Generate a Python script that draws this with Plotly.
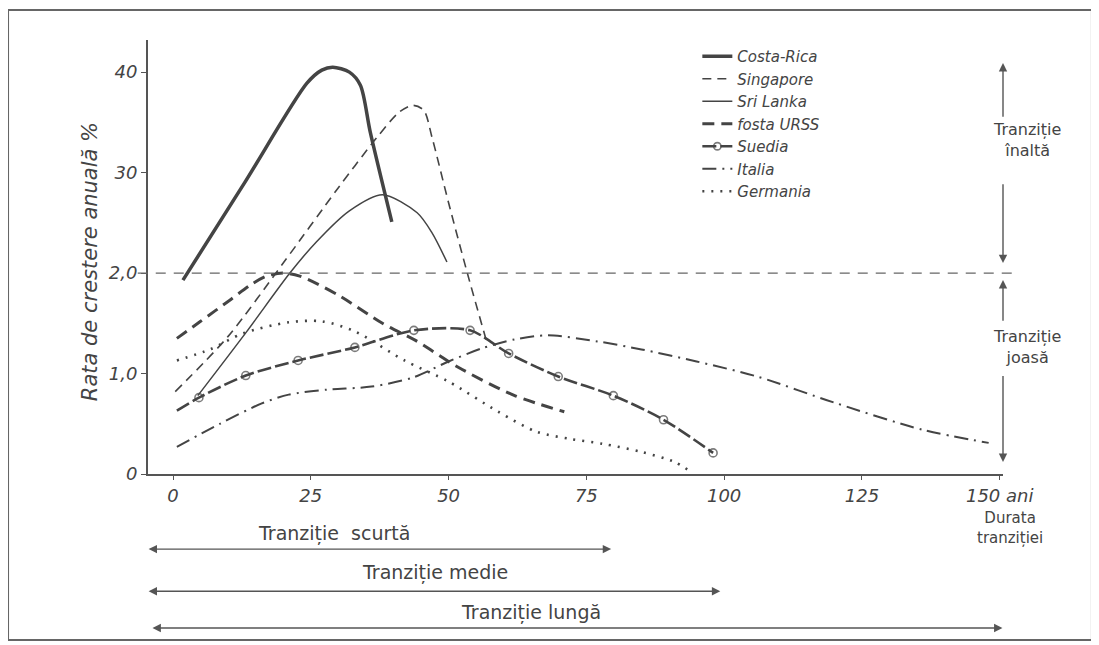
import plotly.graph_objects as go

# ---------------- data ----------------
costa_x = [1.8, 13, 24.3, 27, 29, 32, 34, 35.8, 39.7]
costa_y = [1.93, 2.9, 3.89, 4.02, 4.05, 4.0, 3.87, 3.4, 2.51]

sing_x = [0.4, 10, 20, 30, 37, 41, 43.5, 45.5, 47, 50, 53.4, 57]
sing_y = [0.82, 1.37, 2.1, 2.85, 3.35, 3.6, 3.67, 3.62, 3.35, 2.7, 2.0, 1.3]

sri_x = [4.5, 13.4, 21.2, 26, 32, 38, 44.3, 47, 49.7]
sri_y = [0.78, 1.42, 2.0, 2.31, 2.62, 2.78, 2.6, 2.4, 2.11]

urss_x = [0.7, 5, 10.3, 14, 17, 20, 23, 30, 38, 44, 51.5, 62, 71]
urss_y = [1.35, 1.52, 1.73, 1.88, 1.97, 2.0, 1.97, 1.78, 1.50, 1.33, 1.07, 0.78, 0.62]

suedia_x = [0.7, 4.7, 13.2, 22.7, 33, 43.7, 53.9, 60.9, 69.9, 79.9, 89, 98]
suedia_y = [0.63, 0.76, 0.98, 1.13, 1.26, 1.43, 1.43, 1.20, 0.97, 0.78, 0.54, 0.21]

italia_x = [0.7, 8.5, 16, 21, 28, 36, 43.5, 50, 56, 62, 68, 77, 85, 95, 106, 120, 136, 148]
italia_y = [0.27, 0.5, 0.7, 0.79, 0.84, 0.87, 0.96, 1.12, 1.25, 1.34, 1.38, 1.32, 1.24, 1.12, 0.97, 0.71, 0.44, 0.31]

germ_x = [0.7, 6.7, 12.7, 21, 27, 33, 42, 50, 59, 66, 72, 78, 85, 91, 94]
germ_y = [1.13, 1.24, 1.40, 1.51, 1.52, 1.42, 1.13, 0.92, 0.62, 0.42, 0.35, 0.30, 0.22, 0.12, 0.02]

x_ticks = [0, 25, 50, 75, 100, 125, 150]
x_ticktext = ["0", "25", "50", "75", "100", "125", "150 ani"]
y_ticks = [0, 1, 2, 3, 4]
y_ticktext = ["0", "1,0", "2,0", "30", "40"]

threshold = 2.0

# ---------------- figure ----------------
INK = "#444444"
FONT = "DejaVu Sans"

fig = go.Figure()

def add(x, y, name, width, dash, **kw):
    fig.add_trace(go.Scatter(
        x=x, y=y, name=name, mode=kw.pop("mode", "lines"),
        line=dict(color=INK, width=width, dash=dash, shape="spline", smoothing=0.8),
        **kw))

add(costa_x, costa_y, "Costa-Rica", 3.5, "solid")
add(sing_x, sing_y, "Singapore", 1.6, "9px,6px")
add(sri_x, sri_y, "Sri Lanka", 1.5, "solid")
add(urss_x, urss_y, "fosta URSS", 3, "12px,7px")
add(suedia_x, suedia_y, "Suedia", 2.6, "14px,4px", mode="lines+markers",
    marker=dict(symbol="circle-open", size=[0] + [8] * (len(suedia_x) - 1),
                color=INK, line=dict(width=1.6)))
add(italia_x, italia_y, "Italia", 2, "14px,6px,2px,6px")
add(germ_x, germ_y, "Germania", 2.6, "2px,7px")

# threshold line at 2,0
fig.add_shape(type="line", xref="paper", yref="y", x0=-0.012, x1=1.015,
              y0=threshold, y1=threshold,
              line=dict(color="#666666", width=1.2, dash="10px,8px"))

# outer frame
fig.add_shape(type="rect", xref="paper", yref="paper",
              x0=-0.1637, x1=1.104, y0=-0.3825, y1=1.069,
              line=dict(color="#666666", width=2))

annos = []
# right-side vertical arrows
XR = 150.6
for head, tail in [(4.09, 3.54), (2.10, 2.90), (1.93, 1.51), (0.12, 0.99)]:
    annos.append(dict(x=XR, y=head, ax=XR, ay=tail, xref="x", yref="y",
                      axref="x", ayref="y", showarrow=True, arrowhead=2,
                      arrowsize=1.2, arrowwidth=1.4, arrowcolor="#555555", text=""))
for yc, t in [(3.32, "Tranziție<br>înaltă"), (1.26, "Tranziție<br>joasă")]:
    annos.append(dict(x=1.028, y=yc, xref="paper", yref="y", showarrow=False,
                      xanchor="center", yanchor="middle", text=t,
                      font=dict(family=FONT, size=16, color=INK)))

# bottom duration arrows
for x0, x1, ypos in [(-4.7, 79.5, -0.173), (-4.7, 99.3, -0.270), (-4.0, 150.5, -0.355)]:
    annos.append(dict(x=x1, y=ypos, ax=x0, ay=0, xref="x", yref="paper",
                      axref="x", ayref="pixel", showarrow=True, arrowhead=2,
                      startarrowhead=2, arrowside="end+start", arrowsize=1.2,
                      arrowwidth=1.4, arrowcolor="#555555", text=""))
for xc, yc, t in [(29.2, -0.136, "Tranziție  scurtă"), (47.5, -0.228, "Tranziție medie"),
                  (65, -0.318, "Tranziție lungă")]:
    annos.append(dict(x=xc, y=yc, xref="x", yref="paper", showarrow=False, text=t,
                      xanchor="center", yanchor="middle",
                      font=dict(family=FONT, size=19, color=INK)))
annos.append(dict(x=1.008, y=-0.125, xref="paper", yref="paper", showarrow=False,
                  xanchor="center", yanchor="middle",
                  text="Durata<br>tranziției", font=dict(family=FONT, size=15, color=INK)))
# y-axis title
annos.append(dict(x=-0.068, y=0.49, xref="paper", yref="paper", showarrow=False,
                  xanchor="center", yanchor="middle",
                  textangle=-90, text="Rata de crestere anuală %",
                  font=dict(family=FONT, size=21, color=INK, style="italic")))

# page body has an 8px default margin: figure is sized/offset to compensate
fig.update_layout(
    width=1091, height=637,
    margin=dict(l=140, r=96, t=32, b=171),
    paper_bgcolor="white", plot_bgcolor="white",
    font=dict(family=FONT, color=INK),
    showlegend=True,
    legend=dict(x=0.6425, y=1.0, xanchor="left", yanchor="top",
                bgcolor="rgba(0,0,0,0)", borderwidth=0, tracegroupgap=0,
                font=dict(family=FONT, size=15, color=INK, style="italic")),
    annotations=annos,
    xaxis=dict(range=[-4.54, 150.6], tickvals=x_ticks, ticktext=x_ticktext,
               showgrid=False, zeroline=False, showline=True, linecolor="#555555",
               linewidth=2, ticks="outside", ticklen=4, tickcolor="#555555",
               tickfont=dict(family=FONT, size=18, color=INK, style="italic")),
    yaxis=dict(range=[0, 4.32], tickvals=y_ticks, ticktext=y_ticktext,
               showgrid=False, zeroline=False, showline=True, linecolor="#555555",
               linewidth=2, ticks="outside", ticklen=5, tickcolor="#555555",
               tickfont=dict(family=FONT, size=18, color=INK, style="italic")),
)

fig.write_html("out.html")
